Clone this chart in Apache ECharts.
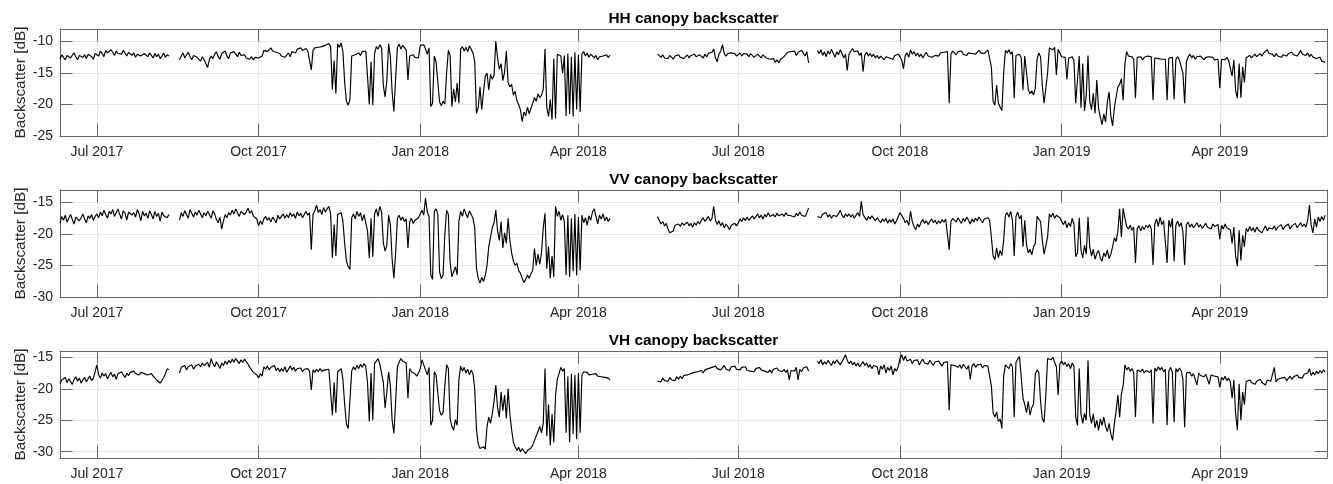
<!DOCTYPE html>
<html>
<head>
<meta charset="utf-8">
<script src="https://cdn.jsdelivr.net/npm/echarts@6/dist/echarts.min.js"></script>
<style>
  html, body { margin: 0; padding: 0; background: #fff; }
  #chart { width: 1333px; height: 484px; }
</style>
</head>
<body>
<div id="chart"></div>
<script>
// one row of daily values per month; the first month starts on the 10th
const months = ['2017-06','2017-07','2017-08','2017-09','2017-10','2017-11','2017-12',
  '2018-01','2018-02','2018-03','2018-04','2018-05','2018-06','2018-07','2018-08','2018-09','2018-10','2018-11','2018-12',
  '2019-01','2019-02','2019-03','2019-04','2019-05'];

const hh = [
  [-12.8,-12.1,-12.5,-12.9,-12.2,-12.0,-12.6,-12.3,-11.8,-12.4,-12.9,-12.2,-11.9,-12.5,-12.1,-12.7,-12.0,-11.7,-12.4,-12.8,-11.9],
  [-11.6,-12.3,-11.5,-11.9,-12.4,-11.4,-11.8,-12.1,-11.3,-11.7,-12.2,-11.5,-11.9,-11.6,-12.0,-11.4,-11.8,-12.3,-11.7,-11.9,-12.2,-11.8,-12.5,-12.0,-11.7,-12.3,-12.6,-11.9,-12.1,-12.4,-11.8],
  [-12.2,-12.6,-11.9,-12.4,-12.0,-12.7,-12.3,-11.8,-12.5,-12.1,-12.3,null,null,null,null,null,-12.9,-12.3,-11.8,-12.6,-12.1,-11.7,-12.4,-12.9,-12.2,-11.9,-12.5,-12.8,-13.1,-12.4,-12.9],
  [-13.2,-14.1,-12.9,-12.3,-12.7,-12.0,-11.6,-12.4,-12.8,-11.9,-12.2,-11.5,-12.3,-12.7,-11.8,-12.1,-11.6,-12.0,-12.4,-11.7,-12.2,-12.5,-12.1,-12.6,-12.3,-12.8,-12.4,-12.9,-12.5,-12.7],
  [-12.6,-12.9,-12.3,-11.4,-11.2,-11.6,-11.3,-11.0,-11.5,-11.2,-11.7,-11.4,-11.9,-12.3,-12.1,-12.5,-12.2,-11.8,-12.4,-11.6,-11.3,-11.8,-11.2,-11.5,-11.0,-11.4,-11.7,-11.1,-11.5,-11.3,-14.5],
  [-11.4,-11.0,-11.3,-10.9,-11.2,-10.8,-11.1,-10.6,-10.9,-10.3,-10.8,-17.6,-13.0,-18.3,-10.4,-10.9,-10.2,-11.6,-16.5,-19.5,-20.1,-19.2,-12.3,-12.6,-12.1,-12.4,-11.8,-12.2,-11.6,-11.9],
  [-11.5,-15.5,-20.0,-13.2,-20.1,-12.0,-10.8,-11.2,-10.5,-11.0,-17.0,-18.8,-16.2,-10.3,-12.4,-18.0,-21.1,-15.8,-10.9,-10.4,-11.2,-10.6,-10.9,-11.3,-16.1,-12.3,-12.6,-12.1,-12.5,-12.2,-12.6],
  [-10.6,-10.9,-10.5,-11.2,-12.0,-11.0,-20.3,-19.8,-12.3,-13.2,-13.5,-19.6,-20.2,-19.5,-19.9,-15.0,-11.4,-12.2,-20.3,-17.5,-19.6,-16.6,-19.8,-11.2,-10.8,-11.5,-10.9,-11.6,-10.7,-11.2,-11.8],
  [-13.2,-21.4,-20.5,-17.2,-20.8,-18.0,-15.5,-15.0,-17.7,-15.2,-16.0,-15.4,-9.9,-12.6,-14.4,-13.5,-16.2,-14.8,-11.5,-16.5,-17.2,-16.8,-18.5,-17.9,-19.4,-20.0,-20.8,-22.7],
  [-21.2,-21.8,-20.4,-21.5,-20.6,-19.8,-18.9,-19.5,-18.3,-18.9,-18.5,-17.6,-11.2,-20.5,-21.9,-19.2,-22.4,-12.7,-22.2,-12.0,-11.8,-12.3,-15.0,-12.2,-21.8,-11.9,-21.5,-12.4,-21.9,-11.7,-20.8],
  [-12.1,-21.2,-12.0,-11.6,-12.3,-11.8,-12.5,-12.0,-11.7,-12.6,-12.2,-12.9,-12.4,-12.7,-12.3,-12.6,-12.1,-12.5,-12.2,null,null,null,null,null,null,null,null,null,null,null],
  [null,null,null,null,null,null,null,null,null,null,null,null,null,null,null,-12.0,-12.2,-12.5,-12.1,-12.6,-12.3,-12.7,-12.2,-12.4,-12.8,-12.3,-12.6,-12.1,-12.5,-12.3,-12.7],
  [-12.4,-12.1,-12.6,-12.2,-12.5,-12.0,-12.4,-12.7,-12.1,-12.3,-12.6,-12.0,-12.4,-11.9,-12.2,-11.7,-11.2,-12.6,-13.2,-12.0,-11.5,-10.5,-11.9,-12.3,-11.9,-12.2,-11.8,-12.1,-11.9,-12.3],
  [-12.0,-11.8,-12.3,-11.9,-12.2,-12.0,-12.4,-11.9,-12.1,-12.5,-12.2,-12.0,-12.3,-12.6,-12.1,-12.4,-12.6,-12.3,-12.8,-13.1,-12.7,-13.3,-12.9,-13.4,-12.8,-13.0,-12.4,-12.1,-11.7,-12.0,-11.6],
  [-11.9,-11.5,-12.2,-11.7,-12.0,-11.4,-11.8,-12.3,-11.6,-13.4,null,null,null,null,-11.4,-11.9,-11.3,-12.2,-11.6,-12.4,-11.5,-12.0,-11.2,-11.8,-12.5,-11.6,-12.1,-11.3,-11.9,-12.6,-12.0],
  [-14.6,-12.0,-11.5,-11.1,-11.6,-11.9,-11.5,-12.2,-11.8,-14.8,-12.1,-11.7,-12.3,-11.9,-12.4,-12.0,-12.6,-12.2,-12.7,-12.3,-12.5,-12.9,-12.4,-12.1,-12.6,-12.3,-12.8,-12.2,-12.5,-12.0],
  [-12.4,-12.9,-14.3,-12.2,-11.8,-12.5,-11.3,-12.0,-11.6,-12.3,-11.8,-12.4,-12.0,-12.6,-12.1,-11.7,-12.3,-12.0,-12.5,-12.8,-12.2,-11.9,-12.3,-11.8,-12.1,-11.7,-12.0,-11.6,-19.8,-12.0,-11.5],
  [-11.8,-12.1,-11.6,-11.9,-11.5,-12.0,-11.7,-12.2,-11.8,-11.5,-11.9,-11.6,-12.0,-11.7,-11.4,-11.8,-11.5,-11.9,-11.6,-11.3,-11.5,-14.0,-19.5,-20.1,-16.9,-19.8,-20.4,-21.0,-15.0,-11.4],
  [-11.8,-11.3,-12.0,-11.6,-19.0,-12.2,-12.5,-12.0,-12.6,-17.7,-12.3,-12.6,-17.6,-18.3,-17.8,-18.5,-17.4,-12.8,-11.8,-12.4,-17.0,-19.8,-20.1,-15.0,-11.0,-10.8,-11.3,-10.9,-15.3,-11.2,-11.8],
  [-12.4,-12.7,-12.5,-16.0,-12.6,-12.9,-12.4,-13.0,-19.8,-20.1,-12.3,-20.5,-13.5,-21.0,-18.5,-12.2,-19.5,-20.8,-18.2,-21.4,-16.1,-20.6,-22.0,-23.2,-21.5,-22.8,-19.6,-18.0,-21.8,-23.4,-20.5],
  [-18.8,-17.2,-16.8,-15.9,-19.3,-13.5,-11.6,-12.3,-12.6,-12.4,-12.8,-19.0,-12.5,-12.7,-12.4,-12.9,-12.5,-12.7,-12.3,-12.6,-12.4,-19.3,-12.6,-12.3,-12.7,-12.4,-12.8,-12.5],
  [-12.8,-19.3,-12.6,-12.9,-12.5,-19.2,-12.8,-12.4,-12.9,-12.6,-15.0,-19.8,-13.2,-12.4,-12.0,-12.6,-12.2,-12.8,-12.4,-12.7,-12.3,-12.6,-12.9,-12.5,-12.8,-12.4,-12.7,-12.5,-12.9,-12.6,-12.8],
  [-17.4,-12.8,-12.6,-12.9,-12.5,-13.0,-12.7,-15.5,-12.9,-17.8,-19.0,-13.5,-18.9,-14.0,-16.5,-12.6,-12.5,-12.2,-12.6,-12.3,-12.0,-12.4,-12.1,-11.9,-12.3,-11.8,-11.6,-11.3,-11.9,-12.2],
  [-12.0,-12.4,-11.9,-12.3,-12.0,-12.5,-12.1,-11.8,-12.3,-11.9,-12.2,-11.7,-12.1,-11.8,-12.3,-11.9,-11.4,-12.0,-11.7,-12.2,-11.8,-12.4,-12.0,-12.5,-12.2,-12.7,-12.9,-12.5,-13.1,-12.8,-13.3]
];

const vv = [
  [-18.3,-17.2,-17.8,-17.0,-18.1,-17.5,-16.9,-17.7,-18.4,-17.3,-17.0,-17.9,-17.4,-16.8,-17.6,-18.2,-17.1,-17.5,-16.9,-17.8,-17.2],
  [-16.8,-17.4,-16.5,-17.1,-16.2,-16.9,-17.5,-16.4,-16.8,-16.1,-17.2,-16.6,-16.0,-16.9,-17.6,-16.3,-16.7,-17.8,-16.5,-16.2,-17.0,-16.6,-17.3,-16.1,-16.8,-17.9,-16.4,-17.1,-16.7,-17.5,-16.3],
  [-16.9,-17.6,-16.4,-17.2,-16.7,-18.0,-16.5,-17.1,-16.8,-17.4,-16.9,null,null,null,null,null,-17.8,-16.6,-17.2,-16.3,-16.9,-17.5,-16.1,-16.7,-17.3,-16.5,-17.0,-16.2,-16.8,-17.4,-16.6],
  [-17.1,-16.4,-16.9,-17.5,-16.3,-16.8,-17.7,-18.2,-17.3,-19.2,-17.9,-16.9,-17.4,-16.6,-17.0,-16.2,-16.8,-16.0,-16.6,-17.2,-16.4,-16.1,-16.9,-16.5,-15.9,-16.7,-16.3,-17.1,-16.8,-17.6],
  [-18.7,-17.9,-18.5,-17.6,-17.2,-17.8,-17.4,-18.1,-17.3,-17.7,-18.2,-17.0,-17.6,-17.3,-16.8,-17.5,-16.9,-17.4,-16.6,-17.2,-16.8,-17.5,-16.5,-17.1,-16.7,-17.4,-16.9,-16.4,-17.0,-16.6,-22.5],
  [-16.8,-16.3,-15.4,-16.6,-16.1,-16.9,-15.8,-16.5,-16.0,-15.6,-16.8,-23.8,-18.5,-23.5,-16.9,-17.2,-16.6,-18.0,-21.5,-24.3,-25.2,-25.6,-17.4,-16.8,-17.6,-16.4,-17.2,-16.6,-17.9,-16.9],
  [-17.0,-19.5,-23.8,-17.5,-23.6,-16.8,-16.0,-17.2,-15.6,-16.5,-21.4,-22.7,-21.8,-17.0,-18.5,-24.0,-27.0,-23.0,-17.5,-17.0,-17.8,-17.3,-18.0,-17.6,-22.2,-18.1,-17.5,-18.3,-17.8,-18.0,-17.4],
  [-16.8,-16.2,-17.0,-14.3,-16.5,-17.2,-26.5,-27.2,-16.4,-16.0,-16.8,-26.0,-27.1,-26.5,-20.0,-16.2,-16.9,-24.5,-26.8,-27.0,-25.2,-26.5,-18.0,-16.4,-17.2,-16.0,-16.8,-17.4,-16.3,-16.9,-17.5],
  [-19.0,-25.5,-27.0,-27.8,-26.9,-27.5,-26.6,-25.0,-22.0,-20.5,-19.0,-18.2,-16.2,-19.5,-21.0,-18.0,-22.2,-19.8,-21.5,-17.5,-21.0,-23.0,-24.3,-25.0,-24.6,-25.8,-26.2,-27.0],
  [-27.7,-27.2,-26.5,-27.0,-26.3,-25.8,-22.3,-25.0,-23.2,-24.8,-23.0,-19.0,-16.7,-25.5,-22.0,-27.0,-23.5,-26.8,-15.6,-17.2,-16.4,-17.8,-16.9,-18.0,-26.5,-17.0,-26.8,-17.5,-25.9,-16.8,-26.6],
  [-17.3,-25.8,-17.0,-18.2,-17.4,-18.6,-17.1,-17.8,-16.5,-16.0,-17.2,-18.4,-17.0,-17.6,-16.8,-17.9,-17.3,-18.0,-17.5,null,null,null,null,null,null,null,null,null,null,null],
  [null,null,null,null,null,null,null,null,null,null,null,null,null,null,null,-17.2,-17.8,-18.4,-18.0,-18.7,-18.3,-19.2,-19.8,-20.1,-19.5,-18.6,-18.9,-18.4,-18.8,-18.2,-18.6],
  [-18.5,-18.1,-18.7,-18.3,-18.9,-18.2,-18.6,-18.0,-18.4,-17.8,-17.4,-18.0,-17.6,-17.2,-17.9,-17.5,-15.6,-17.8,-18.5,-17.9,-18.7,-18.2,-19.0,-18.4,-18.8,-19.3,-18.6,-18.9,-18.3,-18.7],
  [-18.2,-17.6,-18.0,-17.4,-17.9,-17.3,-17.8,-17.5,-17.1,-17.6,-17.2,-16.8,-17.4,-17.0,-17.6,-16.9,-17.3,-16.6,-17.2,-17.5,-16.9,-17.3,-16.7,-17.1,-17.4,-16.8,-17.2,-16.6,-17.0,-16.7,-17.1],
  [-16.9,-17.3,-16.7,-17.1,-16.5,-17.0,-16.8,-17.2,-16.6,-15.9,null,null,null,null,-17.2,-16.9,-17.4,-16.8,-17.1,-16.6,-17.3,-16.9,-17.5,-17.0,-16.7,-17.2,-16.8,-16.2,-17.0,-17.4,-16.8],
  [-17.2,-16.8,-17.3,-16.9,-17.5,-17.0,-16.6,-17.2,-14.8,-16.9,-17.4,-17.8,-17.2,-17.6,-17.1,-17.5,-17.9,-17.4,-17.8,-18.2,-17.6,-18.0,-17.5,-18.3,-17.7,-18.1,-17.6,-18.4,-17.9,-18.0],
  [-16.6,-16.4,-17.5,-18.2,-17.8,-18.6,-16.4,-18.0,-18.8,-19.3,-18.4,-18.9,-18.1,-17.7,-18.3,-17.9,-18.5,-18.0,-17.6,-18.2,-17.8,-18.4,-17.9,-18.3,-17.7,-18.1,-17.6,-17.9,-22.5,-18.0,-17.5],
  [-17.6,-18.1,-17.4,-17.9,-18.3,-17.5,-18.0,-17.3,-17.8,-18.4,-17.6,-18.1,-17.5,-17.9,-17.3,-17.8,-18.2,-17.6,-17.9,-17.4,-17.8,-20.5,-23.5,-24.1,-22.2,-23.8,-22.6,-23.4,-21.0,-17.0],
  [-16.6,-17.3,-16.4,-17.8,-23.5,-17.2,-16.5,-17.6,-17.0,-22.0,-17.8,-21.7,-23.0,-22.4,-23.3,-22.0,-21.5,-17.2,-17.6,-18.0,-21.0,-23.2,-23.5,-20.5,-16.8,-17.3,-16.7,-17.5,-17.0,-16.9,-17.4],
  [-17.6,-18.5,-17.9,-19.0,-18.2,-18.8,-17.5,-18.4,-23.6,-23.0,-17.4,-22.5,-23.8,-21.8,-23.2,-17.3,-22.0,-23.5,-22.4,-24.0,-23.1,-22.6,-23.8,-24.3,-23.0,-23.6,-22.5,-23.9,-23.2,-22.0,-20.6],
  [-21.2,-19.5,-16.0,-20.5,-15.9,-17.5,-18.8,-19.2,-18.6,-19.4,-18.9,-24.6,-19.1,-18.7,-19.5,-18.8,-19.3,-18.6,-19.0,-18.5,-19.2,-24.9,-18.4,-17.6,-18.8,-17.3,-18.5,-17.9],
  [-18.2,-24.6,-17.8,-18.9,-17.5,-24.3,-18.6,-17.9,-18.8,-18.2,-19.6,-24.9,-18.5,-18.1,-18.9,-18.4,-19.0,-18.6,-18.2,-18.9,-18.5,-19.1,-18.7,-18.3,-18.9,-18.6,-19.2,-18.4,-18.8,-19.0,-18.5],
  [-20.8,-18.6,-19.2,-18.4,-19.0,-18.7,-19.3,-21.5,-18.9,-23.5,-25.1,-19.4,-24.2,-20.2,-22.0,-19.1,-19.6,-18.8,-19.5,-19.0,-19.7,-18.9,-19.4,-19.1,-19.8,-19.2,-18.7,-19.5,-19.0,-19.3],
  [-19.2,-18.7,-19.4,-18.9,-19.1,-18.5,-19.3,-18.8,-19.0,-18.4,-19.2,-18.7,-18.9,-18.3,-19.0,-18.6,-18.2,-18.8,-18.4,-18.9,-17.8,-15.4,-18.6,-19.8,-17.6,-18.9,-17.3,-18.0,-17.2,-17.8,-17.0]
];

const vh = [
  [-19.2,-18.6,-18.9,-18.2,-19.0,-18.4,-18.7,-19.3,-18.5,-18.1,-18.8,-18.3,-19.1,-18.6,-18.2,-18.9,-18.4,-18.0,-18.7,-18.3,-18.6],
  [-16.2,-17.8,-18.3,-17.5,-18.0,-17.6,-18.4,-17.9,-17.4,-18.1,-17.7,-18.5,-17.6,-17.9,-17.3,-17.8,-18.2,-17.5,-17.9,-17.4,-17.7,-17.2,-17.6,-17.3,-17.8,-17.4,-17.1,-17.6,-17.3,-17.8,-17.5],
  [-17.6,-18.0,-18.3,-18.6,-18.9,-19.1,-18.7,-18.2,-17.6,-16.8,-17.0,null,null,null,null,null,-17.5,-16.6,-16.9,-16.3,-17.0,-16.5,-16.8,-16.2,-16.9,-16.4,-16.7,-16.1,-16.5,-15.9,-16.3],
  [-16.4,-15.8,-16.6,-15.2,-16.0,-16.5,-15.7,-16.2,-16.8,-15.9,-16.3,-15.6,-16.1,-15.5,-15.9,-15.3,-15.8,-15.2,-15.6,-16.0,-15.4,-15.8,-15.3,-15.7,-16.1,-16.6,-16.9,-17.4,-17.2,-17.8],
  [-18.3,-17.6,-18.0,-16.5,-16.9,-16.4,-17.0,-16.6,-16.9,-16.3,-17.1,-16.7,-17.3,-16.8,-17.2,-16.5,-17.4,-16.9,-16.4,-17.0,-16.6,-17.2,-16.8,-17.1,-16.7,-17.3,-16.9,-17.0,-16.8,-17.2,-20.2],
  [-17.0,-17.4,-16.9,-17.3,-16.8,-17.2,-17.5,-17.0,-17.3,-16.9,-17.2,-24.2,-19.0,-23.8,-17.3,-17.0,-16.8,-18.5,-22.5,-25.6,-26.3,-26.0,-17.2,-16.5,-17.0,-16.3,-16.8,-16.1,-16.6,-16.0],
  [-16.5,-19.0,-25.2,-17.5,-25.0,-16.0,-15.6,-15.2,-16.1,-15.8,-19.0,-23.1,-20.5,-17.3,-19.5,-25.0,-27.1,-22.0,-16.5,-15.8,-15.2,-15.6,-15.3,-15.9,-21.5,-16.8,-17.3,-17.0,-17.6,-18.0,-17.5],
  [-16.8,-15.4,-16.2,-17.0,-17.8,-16.6,-25.8,-25.0,-17.3,-17.8,-17.5,-23.5,-24.2,-23.8,-19.5,-16.2,-16.8,-24.7,-26.0,-26.6,-24.9,-25.8,-18.5,-16.4,-17.2,-16.6,-17.5,-16.9,-17.8,-17.0,-17.6],
  [-20.0,-26.5,-28.8,-29.5,-29.8,-29.2,-29.6,-26.0,-24.5,-25.5,-24.0,-22.0,-19.4,-23.0,-24.5,-20.5,-23.5,-21.0,-24.7,-20.0,-24.0,-26.5,-28.5,-29.2,-29.8,-29.3,-30.0,-29.5],
  [-29.6,-30.3,-29.8,-30.1,-29.4,-29.0,-28.2,-27.5,-26.8,-26.0,-27.0,-25.5,-16.8,-27.5,-22.5,-29.0,-24.0,-28.5,-21.0,-18.5,-17.6,-16.6,-17.2,-16.8,-27.0,-18.0,-28.5,-17.6,-27.2,-17.8,-28.0],
  [-17.5,-27.0,-17.8,-17.3,-17.6,-17.4,-17.8,-17.5,-17.7,-17.9,-17.6,-18.0,-17.8,-18.1,-17.9,-18.2,-18.4,-18.3,-18.6,null,null,null,null,null,null,null,null,null,null,null],
  [null,null,null,null,null,null,null,null,null,null,null,null,null,null,null,-18.8,-18.5,-18.9,-18.3,-18.7,-18.4,-18.8,-18.2,-18.6,-18.3,-18.7,-18.1,-18.5,-18.0,-18.4,-17.9],
  [-18.2,-17.8,-18.1,-17.6,-17.9,-17.4,-17.7,-17.3,-17.6,-17.1,-17.5,-17.0,-17.2,-16.8,-17.1,-16.6,-16.9,-16.4,-16.8,-16.5,-17.0,-16.7,-16.3,-16.9,-16.6,-17.1,-16.5,-16.8,-16.4,-16.9],
  [-16.7,-17.0,-16.6,-16.9,-16.5,-17.1,-16.8,-17.2,-16.9,-17.3,-16.8,-17.1,-16.6,-17.0,-16.7,-17.2,-16.9,-17.4,-17.0,-17.5,-16.9,-17.2,-16.7,-17.1,-16.8,-17.3,-16.9,-17.4,-17.0,-18.6,-17.1],
  [-16.8,-17.2,-16.6,-18.6,-16.9,-17.3,-16.7,-17.0,-16.5,-17.2,null,null,null,null,-15.6,-16.0,-15.4,-16.2,-15.7,-16.1,-15.5,-15.9,-16.3,-15.6,-16.0,-15.4,-15.8,-16.2,-15.7,-15.9,-14.6],
  [-15.5,-16.0,-15.6,-16.2,-15.8,-16.4,-15.9,-16.5,-16.1,-15.7,-16.3,-15.9,-16.6,-16.2,-16.8,-16.3,-16.0,-16.5,-17.8,-16.4,-16.9,-16.2,-17.5,-16.6,-17.1,-16.4,-17.8,-16.8,-17.2,-16.5],
  [-15.2,-14.6,-15.5,-14.8,-15.6,-15.9,-15.3,-16.0,-15.5,-15.8,-15.4,-16.2,-15.7,-15.3,-15.9,-15.6,-16.1,-15.5,-15.8,-16.3,-15.7,-16.0,-15.6,-15.9,-16.4,-15.8,-16.1,-15.7,-23.4,-16.2,-15.9],
  [-16.3,-16.0,-16.6,-16.2,-16.8,-16.1,-16.5,-16.9,-16.3,-18.5,-16.4,-16.0,-16.6,-16.2,-16.5,-16.1,-16.7,-16.3,-16.0,-16.4,-16.2,-19.5,-23.8,-24.5,-23.7,-25.2,-24.8,-26.3,-18.0,-16.2],
  [-16.2,-16.8,-16.0,-16.5,-24.5,-15.8,-15.3,-14.9,-15.2,-21.5,-22.5,-23.8,-22.0,-24.2,-23.0,-22.4,-17.7,-17.0,-17.4,-22.0,-24.8,-25.3,-21.0,-15.2,-14.9,-15.4,-15.0,-15.8,-16.5,-21.0,-16.0],
  [-15.6,-16.2,-15.8,-16.5,-16.0,-16.8,-15.9,-16.4,-24.5,-25.8,-16.8,-24.0,-25.5,-23.9,-25.0,-15.5,-24.2,-25.5,-24.0,-26.2,-25.0,-26.6,-24.8,-25.8,-24.5,-26.0,-26.8,-25.5,-27.2,-28.2,-25.5],
  [-23.5,-21.0,-24.5,-20.8,-19.5,-16.2,-17.0,-16.6,-17.2,-16.8,-17.4,-24.5,-17.0,-16.7,-17.3,-16.9,-17.5,-17.1,-16.8,-17.4,-17.0,-25.5,-16.7,-17.2,-16.5,-17.0,-16.6,-17.3],
  [-16.9,-25.8,-17.2,-16.6,-17.4,-25.3,-16.8,-17.3,-16.7,-17.1,-18.5,-26.1,-17.5,-17.8,-17.4,-18.0,-17.6,-17.9,-19.4,-17.5,-17.9,-17.6,-18.1,-17.7,-17.4,-19.3,-17.8,-17.5,-18.0,-17.7,-18.1],
  [-19.8,-18.2,-18.6,-18.0,-18.7,-18.3,-18.9,-21.5,-18.6,-24.0,-26.6,-19.2,-25.0,-20.5,-22.5,-18.9,-19.2,-18.6,-19.0,-18.7,-19.3,-18.8,-19.1,-18.5,-19.0,-18.7,-19.4,-18.6,-18.9,-18.8],
  [-18.7,-16.6,-18.9,-18.5,-18.8,-18.3,-18.6,-18.2,-18.7,-18.4,-18.0,-18.5,-18.1,-18.4,-17.8,-18.2,-17.9,-18.3,-17.7,-18.0,-17.5,-16.8,-17.9,-17.4,-17.8,-17.2,-17.6,-17.1,-17.5,-17.0,-17.3]
];

const titles = ['HH canopy backscatter', 'VV canopy backscatter', 'VH canopy backscatter'];
const yRanges = [[-25, -8], [-30, -13], [-31, -14]];
const yTicks = [[-25, -20, -15, -10], [-30, -25, -20, -15], [-30, -25, -20, -15]];
const xTicks = ['2017-07', '2017-10', '2018-01', '2018-04', '2018-07', '2018-10', '2019-01', '2019-04'];
const xTickLabels = ['Jul 2017', 'Oct 2017', 'Jan 2018', 'Apr 2018', 'Jul 2018', 'Oct 2018', 'Jan 2019', 'Apr 2019'];

const monthTime = (key, day) => {
  const [y, m] = key.split('-').map(Number);
  return Date.UTC(y, m - 1, day);
};

function toPoints(rows) {
  const pts = [];
  rows.forEach((row, i) => {
    const d0 = i === 0 ? 10 : 1;
    row.forEach((v, j) => pts.push([monthTime(months[i], d0 + j), v === null ? '-' : v]));
  });
  return pts;
}

const xMin = Date.UTC(2017, 5, 10);
const xMax = Date.UTC(2019, 5, 1);
const tickTimes = xTicks.map(k => monthTime(k, 1));
const labelOf = {};
tickTimes.forEach((t, i) => { labelOf[t] = xTickLabels[i]; });

const font = 'Liberation Sans, Arial, sans-serif';
const frame = '#666';
const gridColor = '#e6e6e6';
const textColor = '#262626';
const grids = [
  { left: 60, right: 6, top: 29, height: 107 },
  { left: 60, right: 6, top: 190, height: 107 },
  { left: 60, right: 6, top: 351, height: 107 }
];
const titleY = [19, 180, 341];
const data = [hh, vv, vh];

const xAxis = [], yAxis = [], series = [], graphic = [];
grids.forEach((g, i) => {
  const line = { show: true, onZero: false, lineStyle: { color: frame, width: 1 } };
  const tick = vals => ({ show: true, inside: true, length: 12.5, customValues: vals, lineStyle: { color: frame, width: 1 } });
  xAxis.push({
    type: 'value', gridIndex: i, position: 'bottom', min: xMin, max: xMax,
    axisLine: line, axisTick: tick(tickTimes),
    axisLabel: { customValues: tickTimes, formatter: v => labelOf[v] || '', margin: 9,
      fontSize: 14, fontFamily: font, color: textColor },
    splitLine: { show: true, lineStyle: { color: gridColor, width: 1 } }
  });
  xAxis.push({
    type: 'value', gridIndex: i, position: 'top', min: xMin, max: xMax,
    axisLine: line, axisTick: tick(tickTimes), axisLabel: { show: false }, splitLine: { show: false }
  });
  yAxis.push({
    type: 'value', gridIndex: i, position: 'left', min: yRanges[i][0], max: yRanges[i][1],
    name: 'Backscatter [dB]', nameLocation: 'middle', nameGap: 32, nameMoveOverlap: false,
    nameTextStyle: { fontSize: 15.4, fontFamily: font, color: textColor },
    axisLine: line, axisTick: tick(yTicks[i]),
    axisLabel: { customValues: yTicks[i], margin: 7, fontSize: 14, fontFamily: font, color: textColor },
    splitLine: { show: true, lineStyle: { color: gridColor, width: 1 } }
  });
  yAxis.push({
    type: 'value', gridIndex: i, position: 'right', min: yRanges[i][0], max: yRanges[i][1],
    axisLine: line, axisTick: tick(yTicks[i]), axisLabel: { show: false }, splitLine: { show: false }
  });
  series.push({
    type: 'line', xAxisIndex: 2 * i, yAxisIndex: 2 * i, data: toPoints(data[i]),
    showSymbol: false, symbol: 'none', connectNulls: false, silent: true,
    lineStyle: { color: '#000', width: 1.15 }
  });
  graphic.push({
    type: 'text', x: 693.5, y: titleY[i], silent: true,
    style: { text: titles[i], align: 'center', verticalAlign: 'middle', textAlign: 'center', textVerticalAlign: 'middle',
      font: 'bold 15.4px ' + font, fill: '#000' }
  });
});

const chart = echarts.init(document.getElementById('chart'));
chart.setOption({ animation: false, grid: grids, xAxis, yAxis, series, graphic });
</script>
</body>
</html>
